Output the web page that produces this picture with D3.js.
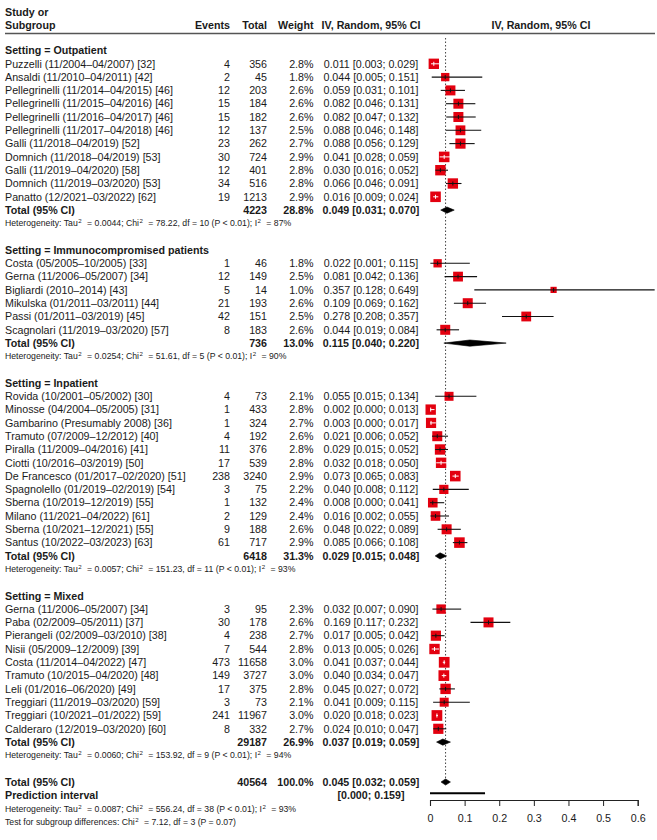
<!DOCTYPE html>
<html>
<head>
<meta charset="utf-8">
<script src="https://cdn.jsdelivr.net/npm/d3@7"></script>
<style>
    body { margin: 0; background: #fff; }
    text { font-family: "Liberation Sans", Arial, sans-serif; fill: #1a1a1a; }
</style>
</head>
<body>
<script>

const settings = ["Outpatient", "Immunocompromised patients", "Inpatient", "Mixed"]
const groupSizes = [11, 6, 12, 10]

const studies = [
    "Puzzelli (11/2004–04/2007) [32]", "Ansaldi (11/2010–04/2011) [42]",
    "Pellegrinelli (11/2014–04/2015) [46]", "Pellegrinelli (11/2015–04/2016) [46]",
    "Pellegrinelli (11/2016–04/2017) [46]", "Pellegrinelli (11/2017–04/2018) [46]",
    "Galli (11/2018–04/2019) [52]", "Domnich (11/2018–04/2019) [53]",
    "Galli (11/2019–04/2020) [58]", "Domnich (11/2019–03/2020) [53]",
    "Panatto (12/2021–03/2022) [62]",
    "Costa (05/2005–10/2005) [33]", "Gerna (11/2006–05/2007) [34]",
    "Bigliardi (2010–2014) [43]", "Mikulska (01/2011–03/2011) [44]",
    "Passi (01/2011–03/2019) [45]", "Scagnolari (11/2019–03/2020) [57]",
    "Rovida (10/2001–05/2002) [30]", "Minosse (04/2004–05/2005) [31]",
    "Gambarino (Presumably 2008) [36]", "Tramuto (07/2009–12/2012) [40]",
    "Piralla (11/2009–04/2016) [41]", "Ciotti (10/2016–03/2019) [50]",
    "De Francesco (01/2017–02/2020) [51]", "Spagnolello (01/2019–02/2019) [54]",
    "Sberna (10/2019–12/2019) [55]", "Milano (11/2021–04/2022) [61]",
    "Sberna (10/2021–12/2021) [55]", "Santus (10/2022–03/2023) [63]",
    "Gerna (11/2006–05/2007) [34]", "Paba (02/2009–05/2011) [37]",
    "Pierangeli (02/2009–03/2010) [38]", "Nisii (05/2009–12/2009) [39]",
    "Costa (11/2014–04/2022) [47]", "Tramuto (10/2015–04/2020) [48]",
    "Leli (01/2016–06/2020) [49]", "Treggiari (11/2019–03/2020) [59]",
    "Treggiari (10/2021–01/2022) [59]", "Calderaro (12/2019–03/2020) [60]"
]
const events = [4, 2, 12, 15, 15, 12, 23, 30, 12, 34, 19,
    1, 12, 5, 21, 42, 8,
    4, 1, 1, 4, 11, 17, 238, 3, 1, 2, 9, 61,
    3, 30, 4, 7, 473, 149, 17, 3, 241, 8]
const totals = [356, 45, 203, 184, 182, 137, 262, 724, 401, 516, 1213,
    46, 149, 14, 193, 151, 183,
    73, 433, 324, 192, 376, 539, 3240, 75, 132, 129, 188, 717,
    95, 178, 238, 544, 11658, 3727, 375, 73, 11967, 332]
const weights = [2.8, 1.8, 2.6, 2.6, 2.6, 2.5, 2.7, 2.9, 2.8, 2.8, 2.9,
    1.8, 2.5, 1.0, 2.6, 2.5, 2.6,
    2.1, 2.8, 2.7, 2.6, 2.8, 2.8, 2.9, 2.2, 2.4, 2.4, 2.6, 2.9,
    2.3, 2.6, 2.7, 2.8, 3.0, 3.0, 2.8, 2.1, 3.0, 2.7]
const estimates = [0.011, 0.044, 0.059, 0.082, 0.082, 0.088, 0.088, 0.041, 0.030, 0.066, 0.016,
    0.022, 0.081, 0.357, 0.109, 0.278, 0.044,
    0.055, 0.002, 0.003, 0.021, 0.029, 0.032, 0.073, 0.040, 0.008, 0.016, 0.048, 0.085,
    0.032, 0.169, 0.017, 0.013, 0.041, 0.040, 0.045, 0.041, 0.020, 0.024]
const lowers = [0.003, 0.005, 0.031, 0.046, 0.047, 0.046, 0.056, 0.028, 0.016, 0.046, 0.009,
    0.001, 0.042, 0.128, 0.069, 0.208, 0.019,
    0.015, 0.000, 0.000, 0.006, 0.015, 0.018, 0.065, 0.008, 0.000, 0.002, 0.022, 0.066,
    0.007, 0.117, 0.005, 0.005, 0.037, 0.034, 0.027, 0.009, 0.018, 0.010]
const uppers = [0.029, 0.151, 0.101, 0.131, 0.132, 0.148, 0.129, 0.059, 0.052, 0.091, 0.024,
    0.115, 0.136, 0.649, 0.162, 0.357, 0.084,
    0.134, 0.013, 0.017, 0.052, 0.052, 0.050, 0.083, 0.112, 0.041, 0.055, 0.089, 0.108,
    0.090, 0.232, 0.042, 0.026, 0.044, 0.047, 0.072, 0.115, 0.023, 0.047]

const subgroupTotals = [4223, 736, 6418, 29187]
const subgroupWeights = [28.8, 13.0, 31.3, 26.9]
const subgroupEst = [0.049, 0.115, 0.029, 0.037]
const subgroupLower = [0.031, 0.040, 0.015, 0.019]
const subgroupUpper = [0.070, 0.220, 0.048, 0.059]
const subgroupTau2 = ["0.0044", "0.0254", "0.0057", "0.0060"]
const subgroupChi2 = ["78.22", "51.61", "151.23", "153.92"]
const subgroupDf = [10, 5, 11, 9]
const subgroupI2 = [87, 90, 93, 94]

const overallTotal = 40564
const overallWeight = 100.0
const overallCI = [0.045, 0.032, 0.059]
const predictionInterval = [0.000, 0.159]
const overallHet = {tau2: "0.0087", chi2: "556.24", df: 38, i2: 93}
const subgroupTest = {chi2: "7.12", df: 3, p: "0.07"}

const xTicks = [0, 0.1, 0.2, 0.3, 0.4, 0.5, 0.6]

window.onload = function (){

    const width = 657
    const height = 840
    const fontSize = 10.7
    const hetSize = 8.7
    const squareRed = "#e3000f"

    const svg = d3.select('body')
        .append('svg')
        .attr('width', width)
        .attr('height', height)

    const x = d3.scaleLinear().domain([0, 0.6]).range([430, 637.7])
    const rowY = d3.scaleLinear().domain([0, 1]).range([50.5, 63.8])

    const f3 = d3.format(".3f")
    const ciText = (e, l, u) => f3(e) + " [" + f3(l) + "; " + f3(u) + "]"

    // build the row list
    let rows = []
    let r = 0
    let k = 0
    settings.forEach(function(s, g){
        rows.push({type: "setting", row: r++, label: "Setting = " + s})
        for (let i = 0; i < groupSizes[g]; i++){
            rows.push({type: "study", row: r++, label: studies[k], events: events[k], total: totals[k],
                weight: weights[k], est: estimates[k], lo: lowers[k], hi: uppers[k]})
            k++
        }
        rows.push({type: "subtotal", row: r++, label: "Total (95% CI)", total: subgroupTotals[g],
            weight: subgroupWeights[g], est: subgroupEst[g], lo: subgroupLower[g], hi: subgroupUpper[g]})
        rows.push({type: "het", row: r++, tau2: subgroupTau2[g], chi2: subgroupChi2[g],
            df: subgroupDf[g], p: "P < 0.01", i2: subgroupI2[g]})
        r++
    })
    rows.push({type: "subtotal", row: r++, label: "Total (95% CI)", total: overallTotal,
        weight: overallWeight, est: overallCI[0], lo: overallCI[1], hi: overallCI[2]})
    rows.push({type: "prediction", row: r++, label: "Prediction interval",
        lo: predictionInterval[0], hi: predictionInterval[1]})
    rows.push({type: "het", row: r++, tau2: overallHet.tau2, chi2: overallHet.chi2,
        df: overallHet.df, p: "P < 0.01", i2: overallHet.i2})
    rows.push({type: "test", row: r++})

    const axisY = 800

    function drawHeader(){
        const g = svg.append('g').attr('id', 'header')
        g.append('text').attr('x', 5).attr('y', 12).attr('dy', '0.35em')
            .style('font-weight', 'bold').style('font-size', fontSize + 'px').text("Study or")
        const cols = [
            {t: "Subgroup", x: 5, anchor: "start"},
            {t: "Events", x: 230, anchor: "end"},
            {t: "Total", x: 267, anchor: "end"},
            {t: "Weight", x: 313.5, anchor: "end"},
            {t: "IV, Random, 95% CI", x: 371, anchor: "middle"},
            {t: "IV, Random, 95% CI", x: 541, anchor: "middle"}
        ]
        g.selectAll('text.col')
            .data(cols)
            .join('text')
            .attr('class', 'col')
            .attr('x', d => d.x)
            .attr('y', 25)
            .attr('dy', '0.35em')
            .attr('text-anchor', d => d.anchor)
            .style('font-weight', 'bold')
            .style('font-size', fontSize + 'px')
            .text(d => d.t)
        g.append('line')
            .attr('x1', 5).attr('x2', 655)
            .attr('y1', 33.5).attr('y2', 33.5)
            .attr('stroke', '#555')
            .attr('stroke-width', 1.6)
    }

    function drawReference(){
        svg.append('line')
            .attr('x1', x(overallCI[0])).attr('x2', x(overallCI[0]))
            .attr('y1', 38).attr('y2', rowY(55) - 4)
            .attr('stroke', '#444')
            .attr('stroke-width', 1)
            .attr('stroke-dasharray', '1.5,2')
    }

    function drawTextColumns(){
        const g = svg.append('g').attr('id', 'table')

        const labelRows = rows.filter(d => d.label)
        g.selectAll('text.label')
            .data(labelRows)
            .join('text')
            .attr('class', 'label')
            .attr('x', 5)
            .attr('y', d => rowY(d.row))
            .attr('dy', '0.35em')
            .style('font-size', fontSize + 'px')
            .style('font-weight', d => d.type == "study" ? 'normal' : 'bold')
            .text(d => d.label)

        const studyRows = rows.filter(d => d.type == "study")
        g.selectAll('text.events')
            .data(studyRows)
            .join('text')
            .attr('class', 'events')
            .attr('x', 230)
            .attr('y', d => rowY(d.row))
            .attr('dy', '0.35em')
            .attr('text-anchor', 'end')
            .style('font-size', fontSize + 'px')
            .text(d => d.events)

        const numRows = rows.filter(d => d.type == "study" || d.type == "subtotal")
        g.selectAll('text.total')
            .data(numRows)
            .join('text')
            .attr('class', 'total')
            .attr('x', 267)
            .attr('y', d => rowY(d.row))
            .attr('dy', '0.35em')
            .attr('text-anchor', 'end')
            .style('font-size', fontSize + 'px')
            .style('font-weight', d => d.type == "study" ? 'normal' : 'bold')
            .text(d => d.total)

        g.selectAll('text.weight')
            .data(numRows)
            .join('text')
            .attr('class', 'weight')
            .attr('x', 313.5)
            .attr('y', d => rowY(d.row))
            .attr('dy', '0.35em')
            .attr('text-anchor', 'end')
            .style('font-size', fontSize + 'px')
            .style('font-weight', d => d.type == "study" ? 'normal' : 'bold')
            .text(d => d.weight.toFixed(1) + "%")

        const ciRows = rows.filter(d => d.type == "study" || d.type == "subtotal" || d.type == "prediction")
        g.selectAll('text.ci')
            .data(ciRows)
            .join('text')
            .attr('class', 'ci')
            .attr('x', 371)
            .attr('y', d => rowY(d.row))
            .attr('dy', '0.35em')
            .attr('text-anchor', 'middle')
            .style('font-size', fontSize + 'px')
            .style('font-weight', d => d.type == "study" ? 'normal' : 'bold')
            .text(d => d.type == "prediction"
                ? "[" + f3(d.lo) + "; " + f3(d.hi) + "]"
                : ciText(d.est, d.lo, d.hi))

        // heterogeneity lines with superscripts
        const hetRows = rows.filter(d => d.type == "het")
        const het = g.selectAll('text.het')
            .data(hetRows)
            .join('text')
            .attr('class', 'het')
            .attr('x', 5)
            .attr('y', d => rowY(d.row))
            .attr('dy', '0.35em')
            .style('font-size', hetSize + 'px')
        het.each(function(d){
            const t = d3.select(this)
            const parts = [
                ["Heterogeneity: Tau", false], ["2", true], [" = " + d.tau2 + "; Chi", false], ["2", true],
                [" = " + d.chi2 + ", df = " + d.df + " (" + d.p + "); I", false], ["2", true],
                [" = " + d.i2 + "%", false]
            ]
            appendParts(t, parts)
        })

        const testRow = rows.find(d => d.type == "test")
        const tt = g.append('text')
            .attr('x', 5)
            .attr('y', rowY(testRow.row))
            .attr('dy', '0.35em')
            .style('font-size', hetSize + 'px')
        appendParts(tt, [["Test for subgroup differences: Chi", false], ["2", true],
            [" = " + subgroupTest.chi2 + ", df = " + subgroupTest.df + " (P = " + subgroupTest.p + ")", false]])
    }

    // superscripts get a little extra room after them, like plotmath does
    function appendParts(t, parts){
        parts.forEach(function(p, i){
            if (p[1]){
                t.append('tspan').attr('dx', 0.5).attr('dy', '-3')
                    .style('font-size', (hetSize * 0.7) + 'px').text(p[0])
            } else {
                t.append('tspan')
                    .attr('dx', i == 0 ? null : 3)
                    .attr('dy', i == 0 ? null : '3')
                    .text(p[0])
            }
        })
    }

    function drawMarks(){
        const g = svg.append('g').attr('id', 'marks')
        const studyRows = rows.filter(d => d.type == "study")
        const side = d => 6.2 * Math.sqrt(d.weight)
        const inside = d => x(d.lo) >= x(d.est) - side(d) / 2 - 1.2 && x(d.hi) <= x(d.est) + side(d) / 2 + 1.2

        g.selectAll('line.ci')
            .data(studyRows.filter(d => !inside(d)))
            .join('line')
            .attr('class', 'ci')
            .attr('x1', d => x(d.lo)).attr('x2', d => x(d.hi))
            .attr('y1', d => rowY(d.row)).attr('y2', d => rowY(d.row))
            .attr('stroke', '#111')
            .attr('stroke-width', 1.1)

        g.selectAll('rect.sq')
            .data(studyRows)
            .join('rect')
            .attr('class', 'sq')
            .attr('x', d => x(d.est) - side(d) / 2)
            .attr('y', d => rowY(d.row) - side(d) / 2)
            .attr('width', side)
            .attr('height', side)
            .attr('fill', squareRed)

        g.selectAll('line.ciover')
            .data(studyRows)
            .join('line')
            .attr('class', 'ciover')
            .attr('x1', d => inside(d) ? x(d.lo) : Math.max(x(d.lo), x(d.est) - side(d) / 2))
            .attr('x2', d => inside(d) ? x(d.hi) : Math.min(x(d.hi), x(d.est) + side(d) / 2))
            .attr('y1', d => rowY(d.row)).attr('y2', d => rowY(d.row))
            .attr('stroke', d => inside(d) ? '#fff' : '#111')
            .attr('stroke-width', 1)

        g.selectAll('line.est')
            .data(studyRows)
            .join('line')
            .attr('class', 'est')
            .attr('x1', d => x(d.est)).attr('x2', d => x(d.est))
            .attr('y1', d => rowY(d.row) - 2).attr('y2', d => rowY(d.row) + 2)
            .attr('stroke', d => inside(d) ? '#fff' : '#111')
            .attr('stroke-width', 1)

        const totalsRows = rows.filter(d => d.type == "subtotal")
        g.selectAll('path.diamond')
            .data(totalsRows)
            .join('path')
            .attr('class', 'diamond')
            .attr('d', function(d){
                const y = rowY(d.row)
                return "M" + x(d.lo) + "," + y + "L" + x(d.est) + "," + (y - 3.1) +
                    "L" + x(d.hi) + "," + y + "L" + x(d.est) + "," + (y + 3.1) + "Z"
            })
            .attr('fill', '#000')
            .attr('stroke', '#000')
            .attr('stroke-width', 0.6)

        const pred = rows.find(d => d.type == "prediction")
        g.append('line')
            .attr('x1', x(pred.lo)).attr('x2', x(pred.hi))
            .attr('y1', rowY(pred.row) - 2).attr('y2', rowY(pred.row) - 2)
            .attr('stroke', '#000')
            .attr('stroke-width', 2)
    }

    function drawAxis(){
        const axis = d3.axisBottom(x)
            .tickValues(xTicks)
            .tickFormat(d3.format("~g"))
            .tickSize(6)
            .tickPadding(8)
        const g = svg.append('g')
            .attr('transform', 'translate(0,' + axisY + ')')
            .call(axis)
        g.select('.domain').attr('stroke', '#222').attr('stroke-width', 1.1)
        g.selectAll('.tick line').attr('stroke', '#222')
        g.selectAll('.tick text')
            .style('font-family', '"Liberation Sans", Arial, sans-serif')
            .style('font-size', fontSize + 'px')
            .attr('fill', '#333')
    }

    drawHeader()
    drawReference()
    drawTextColumns()
    drawMarks()
    drawAxis()
}
</script>
</body>
</html>
